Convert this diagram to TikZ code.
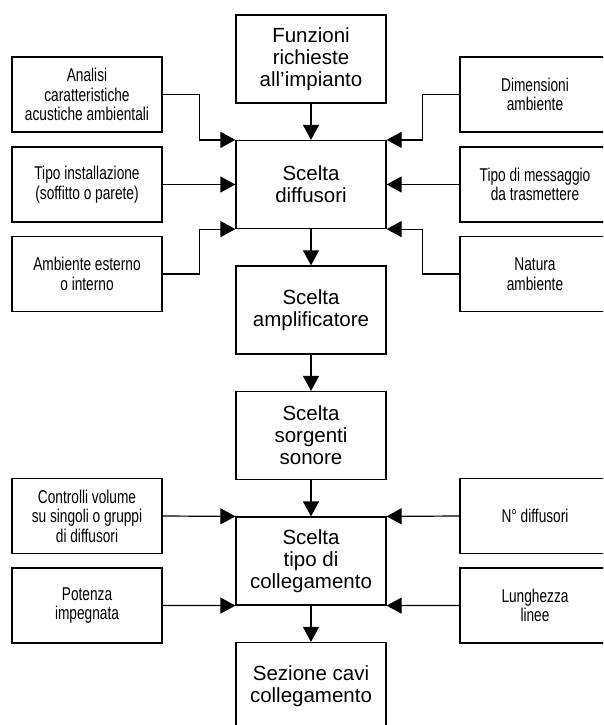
\documentclass[tikz,border=0pt]{standalone}
\usepackage{fontspec}
\setmainfont{Liberation Sans}
\newfontfamily\narrowfont[FakeStretch=0.74]{Liberation Sans}
\usetikzlibrary{arrows.meta}
\begin{document}
\begin{tikzpicture}[x=1pt,y=-1pt,
  mainbox/.style={draw, line width=1.2pt, minimum width=150pt, minimum height=88pt, align=center, inner sep=0pt, font=\fontsize{20.5}{22}\selectfont},
  sidebox/.style={draw, line width=1.2pt, minimum width=150pt, minimum height=75pt, align=center, inner sep=0pt, font=\narrowfont\fontsize{18.5}{19.5}\selectfont},
  arr/.style={line width=1.2pt, -{Triangle[length=15pt,width=16pt]}}]
\clip (0,0) rectangle (603,725);
% central column
\node[mainbox] (c1) at (311,59) {Funzioni\\richieste\\all’impianto};
\node[mainbox] (c2) at (311,184.5) {Scelta\\diffusori};
\node[mainbox] (c3) at (311,310) {Scelta\\amplificatore};
\node[mainbox] (c4) at (311,435.5) {Scelta\\sorgenti\\sonore};
\node[mainbox] (c5) at (311,561) {Scelta\\tipo di\\collegamento};
\node[mainbox] (c6) at (311,686.5) {Sezione cavi\\collegamento};
% left boxes
\node[sidebox] (L1) at (87,94.5) {Analisi\\caratteristiche\\acustiche ambientali};
\node[sidebox] (L2) at (87,184.5) {Tipo installazione\\(soffitto o parete)};
\node[sidebox] (L3) at (87,274) {Ambiente esterno\\o interno};
\node[sidebox] (L4) at (87,516) {Controlli volume\\su singoli o gruppi\\di diffusori};
\node[sidebox] (L5) at (87,605.5) {Potenza\\impegnata};
% right boxes
\node[sidebox] (R1) at (535,94.5) {Dimensioni\\ambiente};
\node[sidebox] (R2) at (535,184.5) {Tipo di messaggio\\da trasmettere};
\node[sidebox] (R3) at (535,274) {Natura\\ambiente};
\node[sidebox] (R4) at (535,516) {N° diffusori};
\node[sidebox] (R5) at (535,605.5) {Lunghezza\\linee};
% central arrows
\draw[arr] (c1.south) -- (c2.north);
\draw[arr] (c2.south) -- (c3.north);
\draw[arr] (c3.south) -- (c4.north);
\draw[arr] (c4.south) -- (c5.north);
\draw[arr] (c5.south) -- (c6.north);
% side arrows to c2
\draw[arr] (L1.east) -- ++(37,0) |- (c2.north west);
\draw[arr] (L2.east) -- (c2.west);
\draw[arr] (L3.east) -- ++(37,0) |- (c2.south west);
\draw[arr] (R1.west) -- ++(-37,0) |- (c2.north east);
\draw[arr] (R2.west) -- (c2.east);
\draw[arr] (R3.west) -- ++(-37,0) |- (c2.south east);
% side arrows to c5
\draw[arr] (L4.east) -- (c5.north west);
\draw[arr] (L5.east) -- (c5.south west);
\draw[arr] (R4.west) -- (c5.north east);
\draw[arr] (R5.west) -- (c5.south east);
\end{tikzpicture}
\end{document}
